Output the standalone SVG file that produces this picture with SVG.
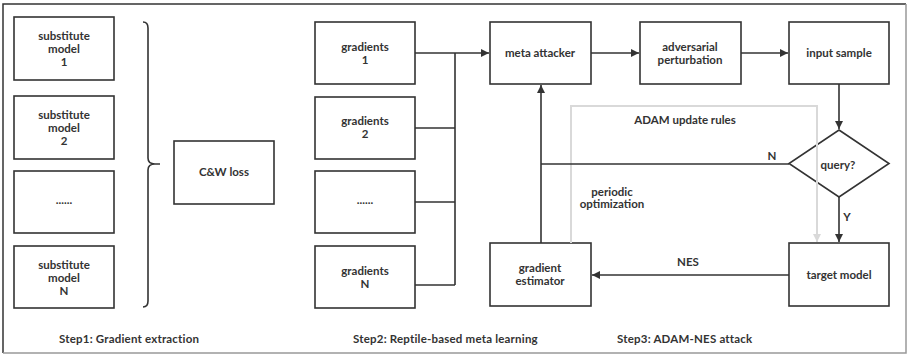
<svg xmlns="http://www.w3.org/2000/svg" width="909" height="355" viewBox="0 0 909 355">
<defs>
<style>
.box{fill:#fff;stroke:#333;stroke-width:1.6}
.ln{fill:none;stroke:#333;stroke-width:1.6}
.gr{fill:none;stroke:#d9d9d9;stroke-width:2}
text{font-family:Lato,"Noto Sans",sans-serif;font-weight:bold;font-size:11.5px;fill:#333;text-anchor:middle}
.lbl{text-anchor:start;letter-spacing:0.2px}
</style>
<marker id="ah" viewBox="0 0 10 10" refX="10" refY="5" markerWidth="10" markerHeight="8" markerUnits="userSpaceOnUse" orient="auto">
<path d="M0,0 L10,5 L0,10 Z" fill="#333"/>
</marker>
<marker id="ahg" viewBox="0 0 10 10" refX="10" refY="5" markerWidth="10" markerHeight="8" markerUnits="userSpaceOnUse" orient="auto">
<path d="M0,0 L10,5 L0,10 Z" fill="#d9d9d9"/>
</marker>
</defs>
<rect x="0" y="0" width="909" height="355" fill="#fff"/>
<path d="M3,353 V4 H906" fill="none" stroke="#333" stroke-width="1.5"/>
<path d="M906,4 V353 H3" fill="none" stroke="#999" stroke-width="1.5"/>

<g id="sub1"><rect class="box" x="14" y="17" width="100" height="63"/><text x="64" y="40">substitute</text><text x="64" y="53">model</text><text x="64" y="66">1</text></g>
<g id="sub2"><rect class="box" x="14" y="96" width="100" height="63"/><text x="64" y="119">substitute</text><text x="64" y="132">model</text><text x="64" y="145">2</text></g>
<g id="sub3"><rect class="box" x="14" y="171" width="100" height="62"/><text x="64" y="204">......</text></g>
<g id="subN"><rect class="box" x="14" y="246" width="100" height="62"/><text x="64" y="269">substitute</text><text x="64" y="282">model</text><text x="64" y="295">N</text></g>
<g id="brace"><path class="ln" d="M143,22 Q148,22 148,28 V158 Q148,164 155,164 H160 M155,164 Q148,164 148,170 V301 Q148,307 143,307"/></g>
<g id="cwloss"><rect class="box" x="174" y="141" width="100" height="63"/><text x="224" y="176">C&amp;W loss</text></g>

<g id="grad1"><rect class="box" x="315" y="22" width="100" height="62"/><text x="365" y="51">gradients</text><text x="365" y="64">1</text></g>
<g id="grad2"><rect class="box" x="315" y="97" width="100" height="62"/><text x="365" y="125">gradients</text><text x="365" y="138">2</text></g>
<g id="grad3"><rect class="box" x="315" y="171" width="100" height="62"/><text x="365" y="204">......</text></g>
<g id="gradN"><rect class="box" x="315" y="246" width="100" height="62"/><text x="365" y="275">gradients</text><text x="365" y="288">N</text></g>

<g id="meta"><rect class="box" x="490" y="22" width="101" height="62"/><text x="540" y="57">meta attacker</text></g>
<g id="adv"><rect class="box" x="640" y="22" width="101" height="62"/><text x="690" y="51">adversarial</text><text x="690" y="64">perturbation</text></g>
<g id="input"><rect class="box" x="789" y="22" width="100" height="62"/><text x="839" y="57">input sample</text></g>
<g id="query"><path class="box" d="M839,130 L889,163.5 L839,197 L789,163.5 Z"/><text x="838" y="169">query?</text></g>
<g id="target"><rect class="box" x="789" y="243" width="100" height="63"/><text x="839" y="279">target model</text></g>
<g id="estimator"><rect class="box" x="490" y="243" width="101" height="63"/><text x="540" y="272">gradient</text><text x="540" y="285">estimator</text></g>

<g id="connectors">
<path class="gr" d="M571,243 V106 H817 V242" marker-end="url(#ahg)"/>
<path class="ln" d="M415,53 H489" marker-end="url(#ah)"/>
<path class="ln" d="M455,53 V285 M415,128 H455 M415,202 H455 M415,285 H455"/>
<path class="ln" d="M591,53 H639" marker-end="url(#ah)"/>
<path class="ln" d="M741,53 H788" marker-end="url(#ah)"/>
<path class="ln" d="M839,84 V129" marker-end="url(#ah)"/>
<path class="ln" d="M839,197 V242" marker-end="url(#ah)"/>
<path class="ln" d="M789,164 H541"/>
<path class="ln" d="M541,243 V85" marker-end="url(#ah)"/>
<path class="ln" d="M789,275 H592" marker-end="url(#ah)"/>
</g>

<g id="labels">
<text x="685" y="124">ADAM update rules</text>
<text x="612" y="196">periodic</text>
<text x="612" y="208">optimization</text>
<text x="772" y="160">N</text>
<text x="847" y="221">Y</text>
<text x="688" y="266">NES</text>
<text class="lbl" x="59" y="343">Step1: Gradient extraction</text>
<text class="lbl" x="353" y="343">Step2: Reptile-based meta learning</text>
<text class="lbl" x="617" y="343">Step3: ADAM-NES attack</text>
</g>
</svg>
